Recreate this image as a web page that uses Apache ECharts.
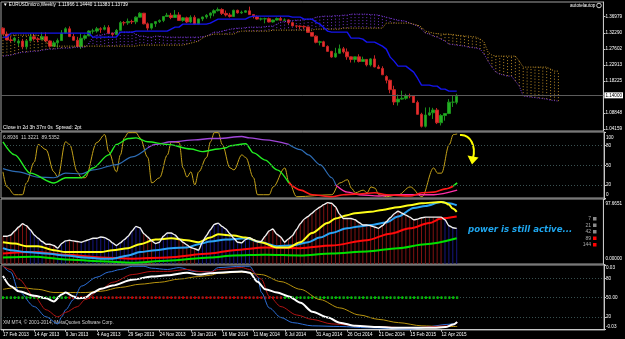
<!DOCTYPE html>
<html><head><meta charset="utf-8">
<script src="https://cdn.jsdelivr.net/npm/echarts@6.0.0/dist/echarts.min.js"></script>
<style>html,body{margin:0;padding:0;background:#000;}#c{width:625px;height:339px;}</style>
</head><body><div id="c"></div>
<script>
// ---------- data ----------
const TICK_LABELS = ['17 Feb 2013','14 Apr 2013','9 Jun 2013','4 Aug 2013','29 Sep 2013','24 Nov 2013','19 Jan 2014','16 Mar 2014','11 May 2014','6 Jul 2014','31 Aug 2014','26 Oct 2014','21 Dec 2014','15 Feb 2015','12 Apr 2015'];
const N_SLOTS = 154;          // weekly slots visible on the chart
const BARS_PER_LABEL = 8;

// weekly candles [open, high, low, close]
const CANDLES = [
[1.3363,1.3387,1.3183,1.3190],[1.3190,1.3264,1.3020,1.3020],[1.3020,1.3113,1.2954,1.3004],[1.3004,1.3110,1.2946,1.3072],
[1.2930,1.3050,1.2840,1.2987],[1.2987,1.3050,1.2750,1.2819],[1.2819,1.3000,1.2745,1.2993],[1.2993,1.3200,1.2990,1.3112],
[1.3112,1.3200,1.3000,1.3050],[1.3050,1.3100,1.2950,1.3030],[1.3030,1.3240,1.3030,1.3115],[1.3115,1.3240,1.2960,1.2990],
[1.2990,1.3010,1.2795,1.2835],[1.2835,1.2995,1.2825,1.2935],[1.2935,1.3060,1.2795,1.3000],[1.3000,1.3306,1.3000,1.3220],
[1.3220,1.3390,1.3200,1.3345],[1.3345,1.3415,1.3100,1.3120],[1.3120,1.3200,1.3000,1.3010],[1.3010,1.3110,1.2805,1.2830],
[1.2830,1.3206,1.2755,1.3068],[1.3068,1.3180,1.3010,1.3140],[1.3140,1.3300,1.3130,1.3280],[1.3280,1.3345,1.3200,1.3280],
[1.3280,1.3400,1.3230,1.3345],[1.3345,1.3390,1.3225,1.3330],[1.3330,1.3450,1.3300,1.3380],[1.3380,1.3450,1.3200,1.3220],
[1.3220,1.3230,1.3105,1.3180],[1.3180,1.3340,1.3180,1.3300],[1.3300,1.3570,1.3290,1.3525],[1.3525,1.3570,1.3440,1.3520],
[1.3520,1.3645,1.3460,1.3560],[1.3560,1.3610,1.3485,1.3550],[1.3550,1.3710,1.3480,1.3685],[1.3685,1.3830,1.3680,1.3800],
[1.3800,1.3810,1.3475,1.3490],[1.3490,1.3530,1.3295,1.3365],[1.3365,1.3500,1.3320,1.3495],[1.3495,1.3560,1.3400,1.3555],
[1.3555,1.3620,1.3515,1.3590],[1.3590,1.3710,1.3540,1.3705],[1.3705,1.3810,1.3700,1.3740],[1.3740,1.3810,1.3625,1.3675],
[1.3675,1.3893,1.3670,1.3750],[1.3750,1.3830,1.3590,1.3590],[1.3590,1.3690,1.3550,1.3665],[1.3665,1.3700,1.3510,1.3545],
[1.3545,1.3740,1.3510,1.3680],[1.3680,1.3740,1.3480,1.3485],[1.3485,1.3640,1.3475,1.3635],[1.3635,1.3700,1.3570,1.3690],
[1.3690,1.3775,1.3640,1.3740],[1.3740,1.3825,1.3650,1.3805],[1.3805,1.3915,1.3710,1.3875],[1.3875,1.3967,1.3850,1.3910],
[1.3910,1.3945,1.3750,1.3795],[1.3795,1.3880,1.3705,1.3750],[1.3750,1.3810,1.3675,1.3705],[1.3705,1.3905,1.3705,1.3885],
[1.3885,1.3905,1.3790,1.3810],[1.3810,1.3875,1.3780,1.3830],[1.3830,1.3890,1.3815,1.3870],[1.3870,1.3993,1.3760,1.3760],
[1.3760,1.3775,1.3650,1.3700],[1.3700,1.3735,1.3615,1.3630],[1.3630,1.3670,1.3585,1.3635],[1.3635,1.3670,1.3505,1.3640],
[1.3640,1.3675,1.3530,1.3545],[1.3545,1.3615,1.3525,1.3600],[1.3600,1.3675,1.3585,1.3645],[1.3645,1.3700,1.3590,1.3595],
[1.3595,1.3650,1.3580,1.3605],[1.3605,1.3620,1.3475,1.3525],[1.3525,1.3535,1.3420,1.3430],[1.3430,1.3445,1.3365,1.3425],
[1.3425,1.3445,1.3335,1.3410],[1.3410,1.3445,1.3340,1.3400],[1.3400,1.3400,1.3235,1.3240],[1.3240,1.3245,1.3130,1.3130],
[1.3130,1.3155,1.2920,1.2950],[1.2950,1.2995,1.2860,1.2965],[1.2965,1.2995,1.2815,1.2830],[1.2830,1.2860,1.2680,1.2685],
[1.2685,1.2700,1.2500,1.2520],[1.2520,1.2790,1.2500,1.2630],[1.2630,1.2885,1.2615,1.2760],[1.2760,1.2815,1.2625,1.2670],
[1.2670,1.2770,1.2440,1.2525],[1.2525,1.2535,1.2360,1.2450],[1.2450,1.2510,1.2360,1.2525],[1.2525,1.2600,1.2360,1.2390],
[1.2390,1.2530,1.2390,1.2450],[1.2450,1.2455,1.2245,1.2290],[1.2290,1.2485,1.2245,1.2465],[1.2465,1.2570,1.2220,1.2230],
[1.2230,1.2290,1.2165,1.2185],[1.2185,1.2250,1.2000,1.2000],[1.1950,1.1985,1.1750,1.1840],[1.1840,1.1860,1.1460,1.1565],
[1.1565,1.1680,1.1115,1.1205],[1.1205,1.1425,1.1100,1.1290],[1.1290,1.1535,1.1270,1.1315],[1.1315,1.1445,1.1270,1.1390],
[1.1390,1.1450,1.1315,1.1380],[1.1380,1.1390,1.1175,1.1190],[1.1190,1.1245,1.0840,1.0845],[1.0845,1.0890,1.0460,1.0495],
[1.0495,1.1045,1.0460,1.0825],[1.0825,1.1050,1.0800,1.0890],[1.0890,1.1035,1.0710,1.0970],[1.0970,1.1030,1.0560,1.0600],
[1.0600,1.0850,1.0520,1.0810],[1.0810,1.0870,1.0660,1.0870],[1.0870,1.1290,1.0850,1.1200],[1.1200,1.1390,1.1060,1.1200],
[1.11966,1.14440,1.11383,1.13739]];

const KIJUN = [1.3101,1.3101,
1.3218,1.3218,1.3218,1.3218,1.3218,1.3218,1.3218,1.3218,1.3218,1.3218,1.3218,1.3218,1.3218,1.3218,1.3218,1.3218,1.3218,1.3218,1.3218,1.3218,1.3218,
1.3101,1.3101,1.3101,1.3101,1.3101,1.3101,1.3101,
1.3248,1.3248,1.3248,1.3248,
1.3277,1.3277,1.3277,1.3277,1.3277,1.3277,1.3277,1.3277,1.3277,
1.3336,1.3394,1.3394,
1.3482,1.3482,1.3482,1.3482,1.3482,1.3482,1.3482,
1.3511,1.3570,
1.3628,1.3628,1.3628,1.3628,1.3628,1.3628,1.3628,1.3628,
1.3686,
1.3715,1.3715,1.3715,1.3715,1.3715,1.3715,1.3715,1.3715,1.3715,1.3715,
1.3686,1.3686,1.3686,1.3628,1.3628,1.3628,
1.3540,1.3482,1.3380,1.3277,
1.3248,1.3248,1.3248,1.3248,1.3248,
1.3072,1.3072,1.3072,1.3043,
1.2955,1.2955,1.2955,1.2897,1.2838,1.2750,1.2517,1.2400,
1.2254,1.2254,1.2254,1.2166,1.2078,1.1900,
1.1698,1.1698,1.1698,1.1669,1.1669,1.1581,1.1581,1.1523,1.1523,1.1523];

const SPAN_A = [1.2546,1.2561,1.2575,1.2604,1.2634,1.2663,1.2663,1.2678,1.2692,1.2692,
1.2721,1.2736,1.2751,1.2751,1.2765,1.2780,1.2780,1.2780,1.2795,1.2809,
1.2809,1.2809,1.2926,1.3101,1.3160,1.3160,1.3189,1.3218,1.3218,1.3233,
1.3248,1.3248,1.3248,1.3248,1.3189,1.3131,1.3131,1.3101,1.3101,1.3131,
1.3131,1.3116,1.3101,1.3101,1.3101,1.3101,1.3101,1.3101,1.3101,1.3101,
1.3101,1.3116,1.3131,1.3189,1.3248,1.3248,1.3277,1.3306,1.3335,1.3350,
1.3365,1.3365,1.3379,1.3394,1.3394,1.3394,1.3394,1.3408,1.3423,1.3423,
1.3482,1.3540,1.3555,1.3569,1.3584,1.3598,1.3598,1.3613,1.3628,1.3628,
1.3686,1.3701,1.3715,1.3715,1.3715,1.3730,1.3730,1.3745,1.3745,1.3774,
1.3774,1.3774,1.3774,1.3774,1.3759,1.3759,1.3745,1.3715,1.3686,1.3657,
1.3628,1.3598,1.3584,1.3569,1.3511,1.3467,1.3423,1.3335,1.3218,1.3189,
1.3131,1.3101,1.3043,1.2985,1.2897,1.2882,1.2868,1.2853,1.2838,1.2809,
1.2795,1.2780,1.2751,1.2604,1.2400,1.2225,1.2078,1.2020,1.1991,1.1962,
1.1962,1.1815,1.1669,1.1377,1.1363,1.1348,1.1333,1.1319,1.1304,1.1289,
1.1260,1.1245,1.1231];

const SPAN_B = [1.3160,1.3160,1.3160,1.3160,1.3160,1.3160,1.3160,1.3160,1.3160,1.3160,
1.3072,1.2955,1.2868,
1.2838,1.2838,1.2838,1.2838,1.2838,1.2838,1.2838,1.2838,1.2838,1.2838,1.2838,1.2838,1.2838,1.2838,1.2838,1.2838,1.2838,1.2838,1.2838,1.2838,1.2838,1.2838,
1.2868,1.2868,1.2868,1.2868,1.2868,1.2868,1.2868,1.2868,1.2868,1.2868,1.2868,1.2868,
1.2897,1.2926,1.2955,1.2985,1.3072,1.3131,1.3160,
1.3189,1.3189,1.3189,1.3189,1.3189,1.3189,1.3248,
1.3277,1.3277,1.3277,1.3277,1.3277,1.3277,1.3277,1.3277,
1.3306,1.3306,1.3306,1.3306,1.3306,1.3306,1.3306,1.3306,1.3306,1.3306,1.3306,
1.3335,1.3335,1.3335,1.3335,1.3335,1.3335,1.3335,
1.3365,1.3365,1.3365,1.3365,1.3365,1.3365,1.3365,1.3365,1.3365,1.3365,1.3365,
1.3511,1.3511,1.3511,1.3511,1.3511,1.3511,1.3511,
1.3482,1.3452,1.3394,1.3277,1.3248,1.3218,1.3204,1.3189,1.3189,1.3189,1.3174,1.3160,1.3145,1.3131,1.3131,1.3116,1.3101,1.3043,1.2955,1.2663,1.2575,
1.2546,1.2546,1.2546,1.2546,1.2546,1.2546,1.2400,
1.2225,1.2225,1.2225,1.2225,1.2225,1.2225,1.2225,1.2166,1.2108,1.2108];

const PRICE_TICKS = [1.36979,1.32290,1.27602,1.22913,1.18225,1.08848,1.04159];
const LAST_PRICE = 1.13739;

// pane 2 oscillators: [week index, value]
const P2_GOLD = [[0,40],[1,17],[3,5],[5,5],[6,23],[8,55],[9,82],[11,74],[13,40],[14,32],[16,86],[17,82],[19,40],[20,31],[21,31],[24,85],[26,97],[27,71],[29,40],[30,66],[31,92],[32,100],[34,100],[35,92],[37,62],[38,23],[40,31],[42,66],[43,86],[45,85],[46,46],[47,32],[48,40],[49,20],[50,40],[52,62],[53,86],[54,100],[55,100],[56,82],[58,46],[59,43],[61,66],[62,62],[64,31],[65,5],[68,5],[69,17],[72,46],[73,25],[75,2],[84,5],[86,23],[88,28],[89,15],[90,8],[92,12],[93,8],[94,17],[95,15],[96,5],[98,2],[101,5],[104,17],[107,2],[110,46],[111,38],[112,38],[114,82],[115,97],[116,98]];
const P2_LINE_A = [[0,86],[3,66],[7,38],[13,23],[16,31],[20,31],[23,46],[27,66],[29,82],[32,91],[34,92],[37,86],[42,82],[48,75],[51,71],[55,75],[57,77],[58,80],[62,83],[64,69],[67,58],[70,43],[73,23],[76,12],[79,5],[84,2],[87,5],[90,6],[95,8],[98,5],[104,3],[107,8],[110,9],[113,14],[115,18],[116,23]];
const P2_LINE_B = [[0,45],[4,40],[9,32],[13,31],[16,38],[20,37],[23,43],[29,51],[33,63],[37,77],[39,82],[43,86],[49,89],[53,91],[55,91],[61,94],[63,92],[67,89],[73,82],[76,74],[78,66],[81,51],[84,31],[85,20],[88,9],[91,5],[96,3],[101,5],[110,5],[116,12]];
const P2_LEVELS = [20,50,80];
const P2_TICKS = [100,80,50,20,0];
const P2_HEADER = '6.8936  11.3221  89.5352';

// pane 3 power lines
const P3_WHITE = [42,42,44,50,56,61,58,52,44,39, 34,30,30,28,24,31,35,36,35,34, 33,35,37,39,39,41,40,37,32,28,
 32,37,42,50,57,55,46,41,35,31, 33,42,47,47,44,38,33,29,25,23, 21,33,43,52,60,62,57,53,46,39,
 33,32,37,40,37,34,34,42,50,53, 45,41,33,38,43,52,61,68,72,77, 82,86,90,93,92,87,76,69,69,69,
 67,63,59,59,58,56,54,58,64,70, 76,80,77,74,71,67,68,70,71,71, 71,71,71,67,58,55,54];
const HIST_DIR = [-1,-1,-1,-1,-1,-1,-1, 1,1,1,1, -1,-1,-1, 1,1,1, -1,-1,-1,
 1,1,1,1,1,1,1,1,1,1,1,1,1,1,1,1, -1,-1,-1, 1,1,1,1,1,1, -1,-1,-1,-1,-1,
 1,1,1,1,1,1,1,1,1,1,1,1,1,1,
 -1,-1,-1,-1,-1,-1,-1,-1,-1,-1,-1,-1,-1,-1,-1,-1,-1,-1,-1,-1,-1,-1,-1,-1,-1,-1,-1,-1,-1,-1,-1,-1,-1,-1,-1,-1,-1,-1,-1,-1,-1,-1,-1,-1,-1,-1,-1,-1,-1,
 1,1,1,1];
const P3_YELLOW = [[0,33],[3,31],[6,27],[9,27],[13,21],[16,18],[20,18],[25,18],[28,21],[32,24],[35,30],[39,37],[43,39],[47,36],[50,33],[53,40],[55,45],[59,43],[62,40],[66,33],[70,25],[73,25],[76,33],[79,47],[83,62],[85,69],[88,74],[90,77],[94,79],[97,82],[101,86],[104,89],[107,92],[112,94],[113,93],[114,90],[115,84],[116,79]];
const P3_SKY = [[0,24],[2,21],[6,18],[11,16],[16,13],[21,10],[25,8],[28,8],[32,13],[35,18],[39,21],[43,24],[47,25],[50,30],[53,34],[57,37],[62,39],[66,33],[70,27],[74,28],[78,33],[81,40],[84,47],[88,54],[91,57],[94,59],[98,63],[101,72],[105,85],[108,88],[112,94],[114,92],[116,89]];
const P3_RED = [[0,16],[8,18],[16,14],[25,10],[33,8],[42,10],[53,16],[59,21],[67,25],[76,24],[84,28],[93,36],[99,46],[104,54],[109,62],[112,69],[116,72]];
const P3_GREEN = [[0,10],[8,11],[16,7],[25,4],[33,2],[42,5],[53,10],[59,13],[67,14],[76,13],[84,16],[93,19],[101,24],[108,30],[116,39]];
const P3_TICKS = [97.6651, 0];
const P3_TICK_TEXT = ['97.6651', '0.00000'];
const POWER_PERIODS = ['7','21','42','89','144'];

// pane 4 lines
const P4_WHITE = [[0,84],[2,68],[4,60],[8,53],[11,49],[13,44],[15,55],[16,58],[18,52],[19,49],[21,50],[23,58],[25,64],[28,69],[33,78],[38,83],[42,85],[47,89],[50,86],[53,88],[55,89],[61,91],[63,89],[65,75],[67,63],[70,58],[73,52],[76,42],[79,28],[83,19],[86,11],[90,6],[96,4],[101,3],[110,3],[113,4],[115,8],[116,12]];
const P4_BLUE = [[0,99],[2,90],[4,60],[8,36],[11,20],[14,9],[15,20],[16,31],[18,47],[20,68],[24,82],[27,90],[30,94],[33,99],[36,99],[38,96],[42,94],[45,97],[49,91],[53,90],[55,97],[61,99],[63,99],[65,83],[66,58],[68,34],[71,19],[74,11],[79,6],[86,5],[93,3],[104,1],[115,9],[116,11]];
const P4_RED = [[0,99],[2,94],[4,79],[8,52],[11,31],[14,20],[16,27],[19,36],[21,47],[25,63],[28,74],[33,86],[38,91],[42,91],[47,94],[50,91],[53,90],[55,94],[61,97],[63,94],[66,79],[68,52],[71,36],[75,23],[79,16],[84,9],[93,5],[104,3],[114,6],[116,11]];
const P4_GOLD = [[0,63],[4,66],[9,63],[13,58],[16,58],[21,58],[25,60],[30,66],[35,71],[40,74],[45,79],[50,83],[53,85],[55,88],[61,90],[66,86],[71,75],[76,63],[81,47],[86,34],[91,23],[96,16],[101,11],[107,6],[112,5],[116,5]];
const DOT_LEVEL = 50;
const DOT_SIGNAL = [1,1,1,1,1,1,1,1,1,1,1,1,1,1,1,1,1,
 -1,-1,-1,-1,-1,-1,-1,-1,-1,-1,-1,-1,-1,-1,-1,-1,-1,-1,-1,-1,-1,-1,-1,-1,-1,-1,-1,-1,-1,-1,-1,-1,-1,-1,-1,-1,-1,-1,-1,-1,-1,-1,-1,-1,-1,-1,-1,-1,-1,-1,-1,-1,-1,-1,-1,
 1,1,1,1,1,1,1,1,1,1,1,1,1,1,1,1,1,1,1,1,1,1,1,1,1,1,1,1,1,1,1,1,1,1,1,1,1,1,1,1,1,1,1,1,1];
const P4_LEVELS = [20,50,80];
const P4_TICKS = [100,80,50,20,0];
const P4_TICK_TEXT = ['0.03','80','50.00','20','-0.03'];

// ---------- chart ----------
const FONT = 'Liberation Sans';
const AX = '#c8c8c8';
const LBL = {color:'#fff', fontSize:4.6, fontFamily:FONT};
const cats = [];
for (let i = 0; i < N_SLOTS; i++) cats.push(String(i));
const showTick = i => i % BARS_PER_LABEL === 0 && (i / BARS_PER_LABEL) < TICK_LABELS.length;

function xAxis(gi, labels) {
  return {type:'category', gridIndex:gi, data:cats, boundaryGap:true,
    axisLine:{show:labels, lineStyle:{color:AX}},
    axisTick:{show:labels, length:2, alignWithLabel:true, interval:(i)=>showTick(i), lineStyle:{color:AX}},
    axisLabel:Object.assign({show:labels, interval:(i)=>showTick(i), formatter:(v,i)=>showTick(i)?TICK_LABELS[i/BARS_PER_LABEL]:'',
      align:'left', margin:2}, LBL),
    splitLine:{show:false}};
}
// edge labels are nudged inside the pane like MetaTrader does
function yAxis(gi, min, max, ticks, text, padTop, padBottom) {
  const top = Math.max.apply(null, ticks), bottom = Math.min.apply(null, ticks);
  return {type:'value', gridIndex:gi, position:'right', min:min, max:max,
    splitLine:{show:false},
    axisLine:{show:true, lineStyle:{color:AX}},
    axisTick:{show:true, length:2, customValues:ticks, lineStyle:{color:AX}},
    axisLabel:Object.assign({customValues:ticks, margin:2,
      formatter:(v)=> v === top && padTop ? '{t|' + text(v) + '}' : (v === bottom && padBottom ? '{b|' + text(v) + '}' : text(v)),
      rich:{t:Object.assign({padding:[padTop||0,0,0,0]}, LBL), b:Object.assign({padding:[0,0,padBottom||0,0]}, LBL)}}, LBL)};
}
const gridBase = {left:1, right:21, show:true, borderColor:'#a0a0a0', borderWidth:1, backgroundColor:'#000'};
const PURPLE = '#7a38d8', ORANGE = '#c8962a';

function line(xi, data, color, width, smooth) {
  return {type:'line', xAxisIndex:xi, yAxisIndex:xi, data:data, showSymbol:false, symbol:'none', silent:true,
    smooth: smooth === undefined ? 0.3 : smooth, smoothMonotone:'x',
    lineStyle:{color:color, width:width}, animation:false};
}
function seg(data, a, b) { return data.filter(p => p[0] >= a && p[0] <= b); }
function levels(vals) {
  return {silent:true, symbol:'none', label:{show:false}, animation:false,
    lineStyle:{color:'#3a5252', type:[1,2], width:1}, data: vals.map(v => ({yAxis:v}))};
}

const series = [];
// Ichimoku cloud
series.push({type:'custom', xAxisIndex:0, yAxisIndex:0, silent:true, animation:false,
  data: SPAN_A.map((a,i)=>[i, a, SPAN_B[i]]), encode:{x:0, y:[1,2]},
  renderItem:(params, api)=>{
    const i = api.value(0), a = api.value(1), b = api.value(2);
    const p1 = api.coord([i, a]), p2 = api.coord([i, b]);
    return {type:'line', shape:{x1:p1[0], y1:p1[1], x2:p2[0], y2:p2[1]},
      style:{stroke: a >= b ? PURPLE : ORANGE, lineWidth:1, lineDash:[1,2], opacity:0.9}};
  }});
series.push({type:'line', xAxisIndex:0, yAxisIndex:0, data:SPAN_A, showSymbol:false, silent:true, animation:false,
  lineStyle:{color:PURPLE, width:1, type:[1,1.5]}});
series.push({type:'line', xAxisIndex:0, yAxisIndex:0, data:SPAN_B, showSymbol:false, silent:true, animation:false,
  lineStyle:{color:ORANGE, width:1, type:[1,1.5]}});
series.push({type:'line', xAxisIndex:0, yAxisIndex:0, data:KIJUN, showSymbol:false, silent:true, animation:false,
  lineStyle:{color:'#1414f0', width:1.4}});
series.push({type:'candlestick', xAxisIndex:0, yAxisIndex:0, barWidth:3, silent:true, animation:false,
  data: CANDLES.map(([o,h,l,c]) => [o,c,l,h]),
  itemStyle:{color:'#22b022', color0:'#e53030', borderColor:'#1c8f1c', borderColor0:'#c42424', borderWidth:1},
  markLine:{silent:true, symbol:'none', animation:false, data:[{yAxis:LAST_PRICE}],
    lineStyle:{color:'#5c5c5c', width:1, type:'solid'},
    label:{position:'end', formatter:(p)=>p.value.toFixed(5), backgroundColor:'#ffffff', color:'#000',
      fontSize:4.6, fontFamily:FONT, padding:[1,1,0,1], distance:1}}});

// pane 2
const g2 = line(1, P2_GOLD, '#c4a21a', 1, 0.35); g2.markLine = levels(P2_LEVELS); series.push(g2);
series.push(line(1, seg(P2_LINE_B,0,37), '#2d6cb4', 1.2));
series.push(line(1, seg(P2_LINE_B,37,73), '#a046d8', 1.4));
series.push(line(1, seg(P2_LINE_B,73,85), '#2d6cb4', 1.2));
series.push(line(1, seg(P2_LINE_B,85,116), '#ff2fa8', 1.4));
series.push(line(1, seg(P2_LINE_A,0,73), '#22ee22', 1.4));
series.push(line(1, seg(P2_LINE_A,73,115), '#ff1a1a', 1.6));
series.push(line(1, seg(P2_LINE_A,115,116), '#22ee22', 1.6));

// pane 3
series.push({type:'bar', xAxisIndex:2, yAxisIndex:2, barWidth:1, silent:true, animation:false,
  data: P3_WHITE.map((v,i)=>({value:v, itemStyle:{color: HIST_DIR[i] > 0 ? '#16167e' : '#7e1212'}}))});
series.push(line(2, P3_GREEN, '#00e000', 2));
series.push(line(2, P3_RED, '#ff0a0a', 2));
series.push(line(2, P3_SKY, '#2ba3f5', 2));
series.push(line(2, P3_YELLOW, '#ffff1a', 2));
series.push(line(2, P3_WHITE, '#f0f0f0', 1.4, 0.2));

// pane 4
const g4 = line(3, P4_GOLD, '#b8940e', 1); g4.markLine = levels(P4_LEVELS); series.push(g4);
series.push(line(3, P4_BLUE, '#2d6fd8', 1));
series.push(line(3, P4_RED, '#b41414', 1));
series.push({type:'scatter', xAxisIndex:3, yAxisIndex:3, symbol:'circle', symbolSize:2.6, silent:true, animation:false,
  data: DOT_SIGNAL.map((s,i)=>({value:[i, DOT_LEVEL], itemStyle:{color: s > 0 ? '#00ff00' : '#ff0000'}}))});
series.push(line(3, P4_WHITE, '#ffffff', 2));

const txt = (x, y, text, size, color, extra) => Object.assign({type:'text', x:x, y:y, silent:true,
  style:Object.assign({text:text, fill:color, fontSize:size, fontFamily:FONT, verticalAlign:'top'}, extra||{})});

const graphic = [
  txt(3, 2.5, '\u25BC EURUSDmicro,Weekly  1.11966 1.14440 1.11383 1.13739', 4.6, '#ffffff'),
  txt(570, 3.5, 'autotelautop', 4.6, '#ffffff'),
  {type:'circle', shape:{cx:599, cy:5.5, r:2.3}, silent:true, style:{fill:'none', stroke:'#ffffff', lineWidth:0.8}},
  txt(3, 125.5, 'Close in 2d 3h 37m 0s  Spread: 2pt', 5, '#ffffff'),
  txt(3, 135.5, P2_HEADER, 5, '#d0d0d0'),
  txt(3, 320.5, 'XM MT4, \u00A9 2001-2014, MetaQuotes Software Corp.', 4.8, '#d0d0d0'),
  txt(468, 225.5, 'power is still active...', 8.6, '#1ea6ee', {fontWeight:'bold', fontStyle:'italic', fontFamily:'DejaVu Sans'}),
  {type:'bezierCurve', silent:true, shape:{x1:460, y1:135, cpx1:471, cpy1:134, cpx2:476, cpy2:147, x2:473, y2:158},
    style:{stroke:'#ffff00', lineWidth:2, fill:'none'}},
  {type:'polygon', silent:true, shape:{points:[[467.5,155.5],[478.5,157.5],[472,164.5]]}, style:{fill:'#ffff00'}}
];
const legendColors = ['#8a8a8a','#8a8a8a','#8a8a8a','#ff0000','#ff0000'];
POWER_PERIODS.forEach((p, k) => {
  graphic.push(txt(591, 216.5 + k*6.5, p, 5, '#a8a8a8', {align:'right'}));
  graphic.push({type:'rect', silent:true, shape:{x:593, y:217 + k*6.5, width:3.5, height:3.5}, style:{fill:legendColors[k]}});
});

const chart = echarts.init(document.getElementById('c'), null, {renderer:'canvas', width:625, height:339});
chart.setOption({
  backgroundColor:'#000000',
  animation:false,
  grid:[
    Object.assign({top:2, height:129}, gridBase),
    Object.assign({top:132, height:66}, gridBase),
    Object.assign({top:199, height:65}, gridBase),
    Object.assign({top:265, height:65}, gridBase)
  ],
  xAxis:[xAxis(0,false), xAxis(1,false), xAxis(2,false), xAxis(3,true)],
  yAxis:[
    yAxis(0, 1.03574, 1.41283, PRICE_TICKS, v => v.toFixed(5), 0, 0),
    yAxis(1, 0, 101, P2_TICKS, v => String(v), 10, 6),
    yAxis(2, 0, 98.5, P3_TICKS, v => P3_TICK_TEXT[P3_TICKS.indexOf(v)], 8, 10),
    yAxis(3, -0.5, 101, P4_TICKS, v => P4_TICK_TEXT[P4_TICKS.indexOf(v)], 5, 6)
  ],
  series: series,
  graphic: graphic
});
</script>
</body></html>
